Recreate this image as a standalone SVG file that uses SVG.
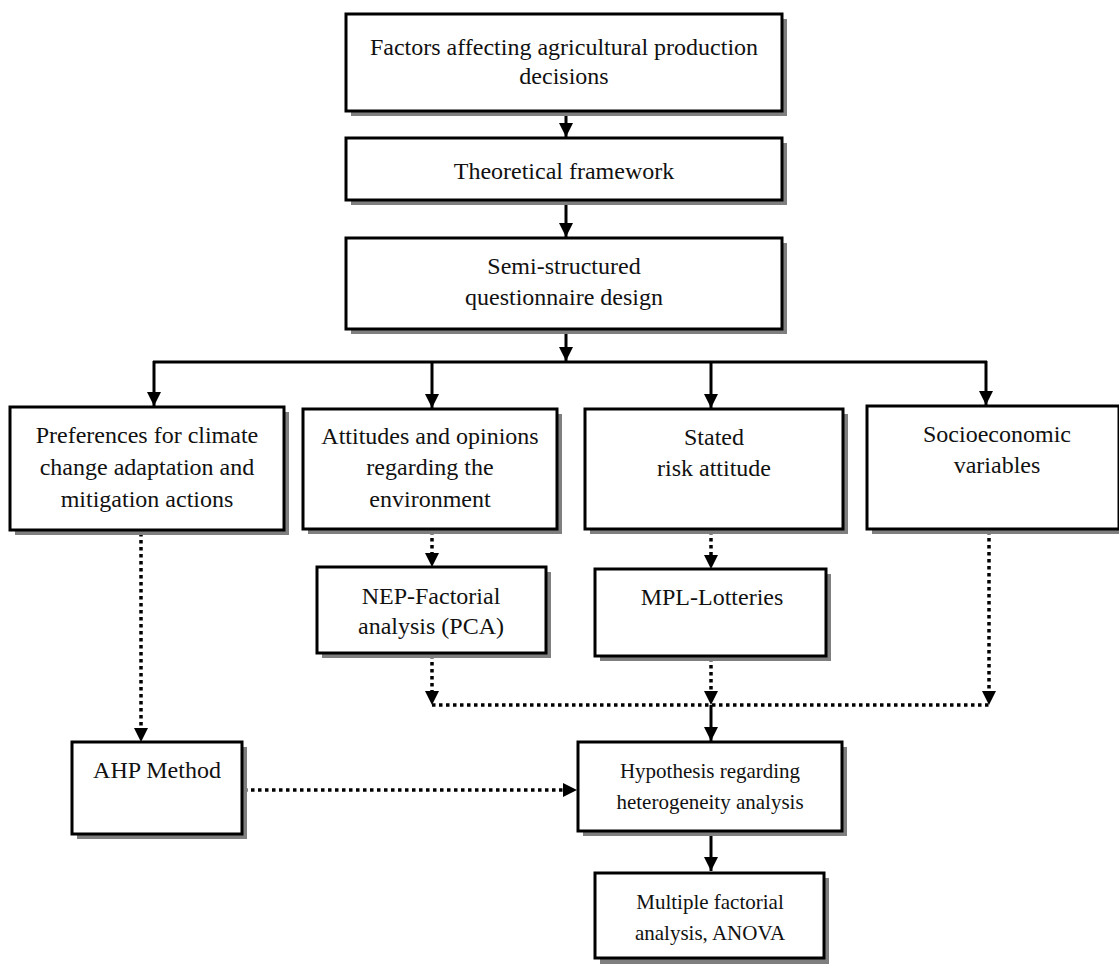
<svg xmlns="http://www.w3.org/2000/svg" width="1119" height="964" viewBox="0 0 1119 964">
<style>
.shadow{fill:#7f7f7f;stroke:none}
.box{fill:#fff;stroke:#000;stroke-width:3}
.t{font-family:"Liberation Serif","Times New Roman",serif;font-size:24px;fill:#111;text-anchor:middle}
.s{font-size:21px}
.solid{fill:none;stroke:#000;stroke-width:3}
.dot{fill:none;stroke:#000;stroke-width:3.5;stroke-dasharray:3.5 3.5}
</style>
<defs>
<marker id="ah" viewBox="0 0 10 10" refX="10" refY="5" markerWidth="4.8" markerHeight="4.8" markerUnits="strokeWidth" orient="auto">
<path d="M0,0 L10,5 L0,10 Z" fill="#000"/>
</marker>
</defs>
<rect width="1119" height="964" fill="#fff"/>

<g id="connectors">
<line class="solid" x1="566" y1="111" x2="566" y2="137" marker-end="url(#ah)"/>
<line class="solid" x1="566" y1="200" x2="566" y2="237" marker-end="url(#ah)"/>
<line class="solid" x1="566" y1="329" x2="566" y2="361" marker-end="url(#ah)"/>
<line class="solid" x1="153" y1="362" x2="987" y2="362"/>
<line class="solid" x1="154" y1="361" x2="154" y2="406" marker-end="url(#ah)"/>
<line class="solid" x1="432" y1="361" x2="432" y2="408" marker-end="url(#ah)"/>
<line class="solid" x1="711" y1="361" x2="711" y2="408" marker-end="url(#ah)"/>
<line class="solid" x1="986" y1="361" x2="986" y2="405" marker-end="url(#ah)"/>
<line class="dot" x1="141" y1="533" x2="141" y2="728"/>
<path d="M134,728 L148,728 L141,742 Z" fill="#000"/>
<line class="dot" x1="432" y1="531" x2="432" y2="553"/>
<path d="M425,553 L439,553 L432,567 Z" fill="#000"/>
<line class="dot" x1="711" y1="531" x2="711" y2="555"/>
<path d="M704,555 L718,555 L711,569 Z" fill="#000"/>
<line class="dot" x1="432" y1="655" x2="432" y2="692"/>
<path d="M425,691 L439,691 L432,705 Z" fill="#000"/>
<line class="dot" x1="711" y1="658" x2="711" y2="692"/>
<path d="M704,691 L718,691 L711,705 Z" fill="#000"/>
<line class="dot" x1="989" y1="531" x2="989" y2="692"/>
<path d="M982,691 L996,691 L989,705 Z" fill="#000"/>
<line class="dot" x1="432" y1="705" x2="989" y2="705"/>
<line class="solid" x1="711" y1="705" x2="711" y2="741" marker-end="url(#ah)"/>
<line class="dot" x1="244" y1="790" x2="564" y2="790"/>
<path d="M563,783 L563,797 L577,790 Z" fill="#000"/>
<line class="solid" x1="711" y1="831" x2="711" y2="871" marker-end="url(#ah)"/>
</g>

<g id="n1">
<rect class="shadow" x="351" y="19" width="436" height="97"/>
<rect class="box" x="346" y="14" width="436" height="97"/>
<text class="t" x="564" y="55">Factors affecting agricultural production</text>
<text class="t" x="564" y="84">decisions</text>
</g>
<g id="n2">
<rect class="shadow" x="351" y="143" width="436" height="62"/>
<rect class="box" x="346" y="138" width="436" height="62"/>
<text class="t" x="564" y="179">Theoretical framework</text>
</g>
<g id="n3">
<rect class="shadow" x="351" y="243" width="436" height="91"/>
<rect class="box" x="346" y="238" width="436" height="91"/>
<text class="t" x="564" y="274">Semi-structured</text>
<text class="t" x="564" y="305">questionnaire design</text>
</g>
<g id="nA">
<rect class="shadow" x="15" y="412" width="274" height="123"/>
<rect class="box" x="10" y="407" width="274" height="123"/>
<text class="t" x="147" y="443">Preferences for climate</text>
<text class="t" x="147" y="475">change adaptation and</text>
<text class="t" x="147" y="507">mitigation actions</text>
</g>
<g id="nB">
<rect class="shadow" x="308" y="414" width="254" height="120"/>
<rect class="box" x="303" y="409" width="254" height="120"/>
<text class="t" x="430" y="444">Attitudes and opinions</text>
<text class="t" x="430" y="475">regarding the</text>
<text class="t" x="430" y="507">environment</text>
</g>
<g id="nC">
<rect class="shadow" x="590" y="414" width="258" height="120"/>
<rect class="box" x="585" y="409" width="258" height="120"/>
<text class="t" x="714" y="445">Stated</text>
<text class="t" x="714" y="476">risk attitude</text>
</g>
<g id="nD">
<rect class="shadow" x="872" y="411" width="252" height="123"/>
<rect class="box" x="867" y="406" width="252" height="123"/>
<text class="t" x="997" y="442">Socioeconomic</text>
<text class="t" x="997" y="473">variables</text>
</g>
<g id="nNEP">
<rect class="shadow" x="322" y="572" width="229" height="86"/>
<rect class="box" x="317" y="567" width="229" height="86"/>
<text class="t" x="431" y="604">NEP-Factorial</text>
<text class="t" x="431" y="634">analysis (PCA)</text>
</g>
<g id="nMPL">
<rect class="shadow" x="600" y="574" width="231" height="87"/>
<rect class="box" x="595" y="569" width="231" height="87"/>
<text class="t" x="712" y="605">MPL-Lotteries</text>
</g>
<g id="nAHP">
<rect class="shadow" x="77" y="747" width="170" height="92"/>
<rect class="box" x="72" y="742" width="170" height="92"/>
<text class="t" x="157" y="778">AHP Method</text>
</g>
<g id="nHyp">
<rect class="shadow" x="583" y="747" width="264" height="89"/>
<rect class="box" x="578" y="742" width="264" height="89"/>
<text class="t s" x="710" y="778">Hypothesis regarding</text>
<text class="t s" x="710" y="809">heterogeneity analysis</text>
</g>
<g id="nMult">
<rect class="shadow" x="600" y="878" width="229" height="86"/>
<rect class="box" x="595" y="873" width="229" height="85"/>
<text class="t s" x="710" y="909">Multiple factorial</text>
<text class="t s" x="710" y="940">analysis, ANOVA</text>
</g>
</svg>
